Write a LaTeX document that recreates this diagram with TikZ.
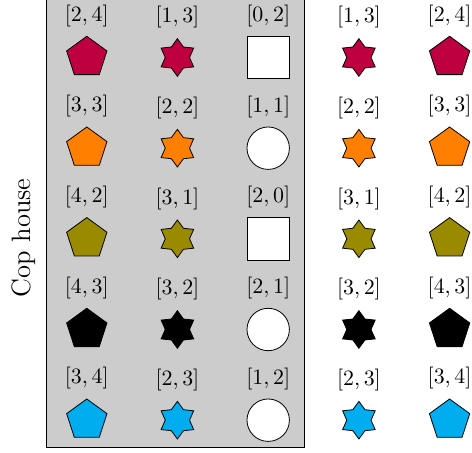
\documentclass[tikz,border=0pt]{standalone}
\usetikzlibrary{shapes.geometric}
\definecolor{cRed}{RGB}{191,0,64}
\definecolor{cOrange}{RGB}{255,128,0}
\definecolor{cOlive}{RGB}{153,138,0}
\definecolor{cBlue}{RGB}{0,174,239}
\definecolor{cPanel}{RGB}{204,204,204}
\tikzset{
  pent/.style={regular polygon,regular polygon sides=5,draw=black,line width=0.4pt,minimum size=21.2pt,inner sep=0pt,outer sep=0pt},
  sixstar/.style={star,star points=6,star point ratio=1.55,draw=black,line width=0.4pt,minimum size=18.8pt,inner sep=0pt,outer sep=0pt},
  sq/.style={rectangle,draw=black,fill=white,line width=0.4pt,minimum size=21.2pt,inner sep=0pt,outer sep=0pt},
  circ/.style={circle,draw=black,fill=white,line width=0.4pt,minimum size=21.2pt,inner sep=0pt,outer sep=0pt},
  lab/.style={font=\fontsize{11.4}{13}\selectfont,inner sep=0pt},
  titlelab/.style={font=\fontsize{13.3}{15}\selectfont,inner sep=0pt,rotate=90},
}
\begin{document}
\begin{tikzpicture}[x=0.5pt,y=-0.5pt]
\useasboundingbox (0,0) rectangle (472,453);
\path[fill=cPanel] (46.3,-5) rectangle (304.3,447.3);
\draw[line width=0.5pt] (46.3,-5) -- (46.3,447.3) -- (304.3,447.3) -- (304.3,-5);
\node[titlelab] (title) at (23.6,238) {Cop house};
% row 1
\node[lab] (a1) at (86.8,15.6) {$[2,4]$};
\node[lab] (b1) at (177.4,17.5) {$[1,3]$};
\node[lab] (c1) at (268.2,16) {$[0,2]$};
\node[lab] (d1) at (358.9,17.5) {$[1,3]$};
\node[lab] (e1) at (449.6,15.6) {$[2,4]$};
\node[pent,fill=cRed] (A1) at (86.8,57.5) {};
\node[sixstar,fill=cRed] (B1) at (177.4,57.5) {};
\node[sq] (C1) at (268.2,57.5) {};
\node[sixstar,fill=cRed] (D1) at (358.9,57.5) {};
\node[pent,fill=cRed] (E1) at (449.6,57.5) {};
% row 2
\node[lab] (a2) at (86.8,106.4) {$[3,3]$};
\node[lab] (b2) at (177.4,108.2) {$[2,2]$};
\node[lab] (c2) at (268.2,106.7) {$[1,1]$};
\node[lab] (d2) at (358.9,108.2) {$[2,2]$};
\node[lab] (e2) at (449.6,106.4) {$[3,3]$};
\node[pent,fill=cOrange] (A2) at (86.8,148.2) {};
\node[sixstar,fill=cOrange] (B2) at (177.4,148.2) {};
\node[circ] (C2) at (268.2,148.2) {};
\node[sixstar,fill=cOrange] (D2) at (358.9,148.2) {};
\node[pent,fill=cOrange] (E2) at (449.6,148.2) {};
% row 3
\node[lab] (a3) at (86.8,197) {$[4,2]$};
\node[lab] (b3) at (177.4,198.9) {$[3,1]$};
\node[lab] (c3) at (268.2,197.3) {$[2,0]$};
\node[lab] (d3) at (358.9,198.9) {$[3,1]$};
\node[lab] (e3) at (449.6,197) {$[4,2]$};
\node[pent,fill=cOlive] (A3) at (86.8,238.8) {};
\node[sixstar,fill=cOlive] (B3) at (177.4,238.8) {};
\node[sq] (C3) at (268.2,238.8) {};
\node[sixstar,fill=cOlive] (D3) at (358.9,238.8) {};
\node[pent,fill=cOlive] (E3) at (449.6,238.8) {};
% row 4
\node[lab] (a4) at (86.8,287.7) {$[4,3]$};
\node[lab] (b4) at (177.4,289.5) {$[3,2]$};
\node[lab] (c4) at (268.2,288) {$[2,1]$};
\node[lab] (d4) at (358.9,289.5) {$[3,2]$};
\node[lab] (e4) at (449.6,287.7) {$[4,3]$};
\node[pent,fill=black] (A4) at (86.8,329.5) {};
\node[sixstar,fill=black] (B4) at (177.4,329.5) {};
\node[circ] (C4) at (268.2,329.5) {};
\node[sixstar,fill=black] (D4) at (358.9,329.5) {};
\node[pent,fill=black] (E4) at (449.6,329.5) {};
% row 5
\node[lab] (a5) at (86.8,378.4) {$[3,4]$};
\node[lab] (b5) at (177.4,380.2) {$[2,3]$};
\node[lab] (c5) at (268.2,378.7) {$[1,2]$};
\node[lab] (d5) at (358.9,380.2) {$[2,3]$};
\node[lab] (e5) at (449.6,378.4) {$[3,4]$};
\node[pent,fill=cBlue] (A5) at (86.8,420.2) {};
\node[sixstar,fill=cBlue] (B5) at (177.4,420.2) {};
\node[circ] (C5) at (268.2,420.2) {};
\node[sixstar,fill=cBlue] (D5) at (358.9,420.2) {};
\node[pent,fill=cBlue] (E5) at (449.6,420.2) {};
\end{tikzpicture}
\end{document}
